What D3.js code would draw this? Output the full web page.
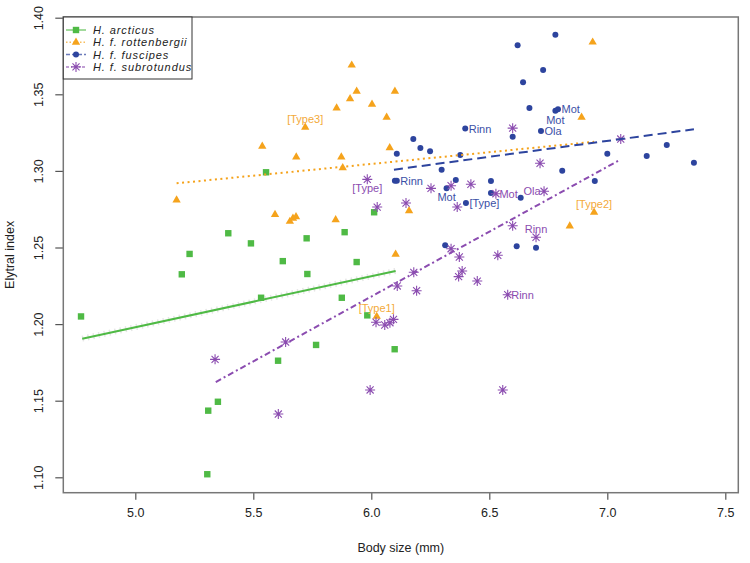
<!DOCTYPE html>
<html><head><meta charset="utf-8">
<script src="https://cdn.jsdelivr.net/npm/d3@7"></script>
<style>body{margin:0;background:#fff}svg{display:block;font-family:"Liberation Sans",Arial,sans-serif}</style>
</head><body>
<script>
// ---- data ----
const seriesNames = ["H. arcticus", "H. f. rottenbergii", "H. f. fuscipes", "H. f. subrotundus"];
const xTicks = [5.0, 5.5, 6.0, 6.5, 7.0, 7.5];
const yTicks = [1.10, 1.15, 1.20, 1.25, 1.30, 1.35, 1.40];

const arcticusX = [4.77,5.197,5.23,5.394,5.49,5.554,5.625,5.726,5.729,5.533,5.605,5.766,6.012,5.887,5.938,5.875,5.983,6.099,5.309,5.35,5.305];
const arcticusY = [1.205,1.2325,1.2458,1.2593,1.2527,1.2991,1.2411,1.256,1.2327,1.2172,1.1761,1.1864,1.273,1.26,1.2405,1.2172,1.2057,1.1836,1.1435,1.1493,1.102];

const rottenX = [5.175,5.917,5.938,5.91,6.10,5.853,6.003,6.065,5.72,5.538,5.682,5.873,6.078,5.879,5.592,5.655,5.668,5.681,5.849,6.16,6.103,6.023,6.938,6.891,6.944,6.841];
const rottenY = [1.281,1.369,1.352,1.347,1.352,1.341,1.3435,1.335,1.3285,1.316,1.309,1.309,1.315,1.302,1.2715,1.267,1.269,1.270,1.268,1.274,1.2456,1.205,1.384,1.335,1.273,1.264];

const fuscX = [6.398,6.178,6.208,6.249,6.108,6.377,6.298,6.100,6.108,6.358,6.319,6.507,6.507,6.401,6.313,6.78,6.62,6.728,6.643,6.67,6.78,6.791,6.719,6.599,7.252,7.0,7.167,7.367,6.809,6.947,6.633,6.616,6.698];
const fuscY = [1.3276,1.3208,1.315,1.3128,1.3112,1.3104,1.3008,1.2936,1.2936,1.294,1.2886,1.2934,1.2856,1.279,1.2514,1.3889,1.382,1.3659,1.3578,1.341,1.3393,1.3402,1.326,1.3223,1.3169,1.3112,1.3097,1.3054,1.3001,1.2934,1.2825,1.2508,1.2499];

const subX = [5.983,6.025,6.147,6.253,6.338,6.422,6.364,6.528,6.338,6.373,6.536,6.599,7.057,6.715,6.732,6.599,6.698,6.385,6.37,6.449,6.578,6.18,6.11,6.192,6.02,6.057,6.079,6.094,5.995,6.557,5.338,5.637,5.606];
const subY = [1.2945,1.2764,1.279,1.2886,1.2903,1.2913,1.2764,1.2851,1.2492,1.2438,1.2449,1.3279,1.3208,1.305,1.2867,1.2642,1.2567,1.2347,1.231,1.2281,1.2192,1.2338,1.2249,1.2218,1.2012,1.1994,1.2009,1.2031,1.157,1.157,1.177,1.1883,1.1413];

// fitted lines (start/end)
const fitArcticusX = [4.775, 6.103], fitArcticusY = [1.1905, 1.2347];
const fitRottenX = [5.175, 6.944], fitRottenY = [1.2919, 1.319];
const fitFuscX = [6.096, 7.367], fitFuscY = [1.3008, 1.3272];
const fitSubX = [5.341, 7.05], fitSubY = [1.1622, 1.3069];

// point annotations: series index, text, x, y, side
const labelSeries = [1,1,1,2,2,2,2,2,2,2,3,3,3,3,3];
const labelText = ["[Type3]","[Type1]","[Type2]","Rinn","Rinn","Mot","[Type]","Mot","Mot","Ola","[Type]","Mot","Ola","Rinn","Rinn"];
const labelX = [5.72,6.023,6.944,6.398,6.108,6.319,6.401,6.791,6.78,6.719,5.983,6.528,6.732,6.698,6.578];
const labelY = [1.3285,1.205,1.273,1.3276,1.2936,1.2886,1.279,1.3402,1.3393,1.326,1.2945,1.2851,1.2867,1.2567,1.2192];
const labelSide = ["above","above","above","right","right","below","right","right","below","right","below","right","left","above","right"];

// ---- drawing ----
const W = 750, H = 563;
const colors = ["#4fba45", "#f5a31c", "#2d449e", "#8b4cb0"];
const labelColors = ["#4fba45", "#f3aa3a", "#3b4fa6", "#8b4cb0"];
const dashes = [null, "2,3.5", "9,5", "6,3,2,3"];

const svg = d3.select("body").append("svg").attr("width", W).attr("height", H);
const L = 63.3, R = 738.3, T = 17.0, B = 492.7;
const x = d3.scaleLinear().domain([5.0, 7.5]).range([135.3, 725.3]);
const y = d3.scaleLinear().domain([1.10, 1.40]).range([477.3, 17.7]);

// axes
const xAxis = svg.append("g").attr("transform", `translate(0,${B})`)
  .call(d3.axisBottom(x).tickValues(xTicks).tickFormat(d3.format(".1f")).tickSize(7).tickPadding(8));
const yAxis = svg.append("g").attr("transform", `translate(${L},0)`)
  .call(d3.axisLeft(y).tickValues(yTicks).tickFormat(d3.format(".2f")).tickSize(8).tickPadding(0));
[xAxis, yAxis].forEach(g => {
  g.select(".domain").remove();
  g.selectAll(".tick line").attr("stroke", "#555").attr("stroke-width", 1.2);
  g.selectAll("text").attr("fill", "#222").style("font-size", "12.5px").style("font-family", "'Liberation Sans',Arial,sans-serif");
});
yAxis.selectAll(".tick text")
  .attr("x", null).attr("dy", null)
  .attr("text-anchor", "middle")
  .attr("transform", "translate(-20,0) rotate(-90)")
  .attr("y", 0);

// box
svg.append("rect").attr("x", L).attr("y", T).attr("width", R - L).attr("height", B - T)
  .attr("fill", "none").attr("stroke", "#777").attr("stroke-width", 1.5);

// axis titles
svg.append("text").attr("x", (L + R) / 2).attr("y", 552).attr("text-anchor", "middle")
  .style("font-size", "12.5px").attr("fill", "#222").text("Body size (mm)");
svg.append("text").attr("transform", `translate(14,${(T + B) / 2}) rotate(-90)`).attr("text-anchor", "middle")
  .style("font-size", "12.5px").attr("fill", "#222").text("Elytral index");

const plot = svg.append("g");

// marker drawing
function marker(g, i, cx, cy) {
  const c = colors[i];
  if (i === 0) {
    g.append("rect").attr("x", cx - 3.2).attr("y", cy - 3.2).attr("width", 6.4).attr("height", 6.4).attr("fill", c);
  } else if (i === 1) {
    g.append("path").attr("d", d3.symbol(d3.symbolTriangle, 30)()).attr("transform", `translate(${cx},${cy})`).attr("fill", c);
  } else if (i === 2) {
    g.append("circle").attr("cx", cx).attr("cy", cy).attr("r", 3).attr("fill", c);
  } else {
    const r = 5;
    const p = d3.path();
    for (let k = 0; k < 4; k++) {
      const a = k * Math.PI / 4;
      p.moveTo(cx - r * Math.cos(a), cy - r * Math.sin(a));
      p.lineTo(cx + r * Math.cos(a), cy + r * Math.sin(a));
    }
    g.append("path").attr("d", p.toString()).attr("stroke", c).attr("stroke-width", 1.1).attr("fill", "none");
  }
}

// fitted lines
const fits = [[fitArcticusX, fitArcticusY], [fitRottenX, fitRottenY], [fitFuscX, fitFuscY], [fitSubX, fitSubY]];
const line = d3.line().x(d => x(d[0])).y(d => y(d[1]));
// faint ghost under the green line
plot.append("path").attr("d", line(d3.zip(...fits[0])))
  .attr("stroke", "#e6e6e6").attr("stroke-width", 6).attr("stroke-dasharray", "1.5,4").attr("fill", "none");

const seriesX = [arcticusX, rottenX, fuscX, subX];
const seriesY = [arcticusY, rottenY, fuscY, subY];
const drawOrder = [0, 1, 2, 3];
drawOrder.forEach(i => {
  const g = plot.append("g");
  seriesX[i].forEach((vx, k) => marker(g, i, x(vx), y(seriesY[i][k])));
});
drawOrder.forEach(i => {
  plot.append("path").attr("d", line(d3.zip(...fits[i])))
    .attr("stroke", colors[i]).attr("stroke-width", 2)
    .attr("stroke-dasharray", dashes[i]).attr("fill", "none");
});

// annotations
labelText.forEach((t, k) => {
  const px = x(labelX[k]), py = y(labelY[k]);
  let tx = px, ty = py, anchor = "middle";
  if (labelSide[k] === "above") ty = py - 8;
  else if (labelSide[k] === "below") ty = py + 9;
  else if (labelSide[k] === "right") { tx = px + 3.5; anchor = "start"; }
  else { tx = px - 3.5; anchor = "end"; }
  svg.append("text").attr("x", tx).attr("y", ty).attr("dy", "0.36em").attr("text-anchor", anchor)
    .style("font-size", "11px").attr("fill", labelColors[labelSeries[k]]).text(t);
});

// legend
const lg = svg.append("g");
lg.append("rect").attr("x", L).attr("y", T).attr("width", 192 - L).attr("height", 79 - T)
  .attr("fill", "#fff").attr("stroke", "#333").attr("stroke-width", 1);
seriesNames.forEach((n, i) => {
  const cy = 30 + i * 12.3;
  lg.append("line").attr("x1", 66).attr("x2", 86).attr("y1", cy).attr("y2", cy)
    .attr("stroke", colors[i]).attr("stroke-width", 1.5).attr("stroke-dasharray", i === 0 ? null : (i === 1 ? "1.5,2" : (i === 2 ? "4,2" : "3,2,1,2"))).attr("opacity", 0.7);
  marker(lg, i, 76, cy);
  lg.append("text").attr("x", 93).attr("y", cy).attr("dy", "0.36em")
    .style("font-size", "11px").style("font-style", "italic").style("letter-spacing", "0.9px")
    .attr("fill", "#222").text(n);
});
</script>
</body></html>
